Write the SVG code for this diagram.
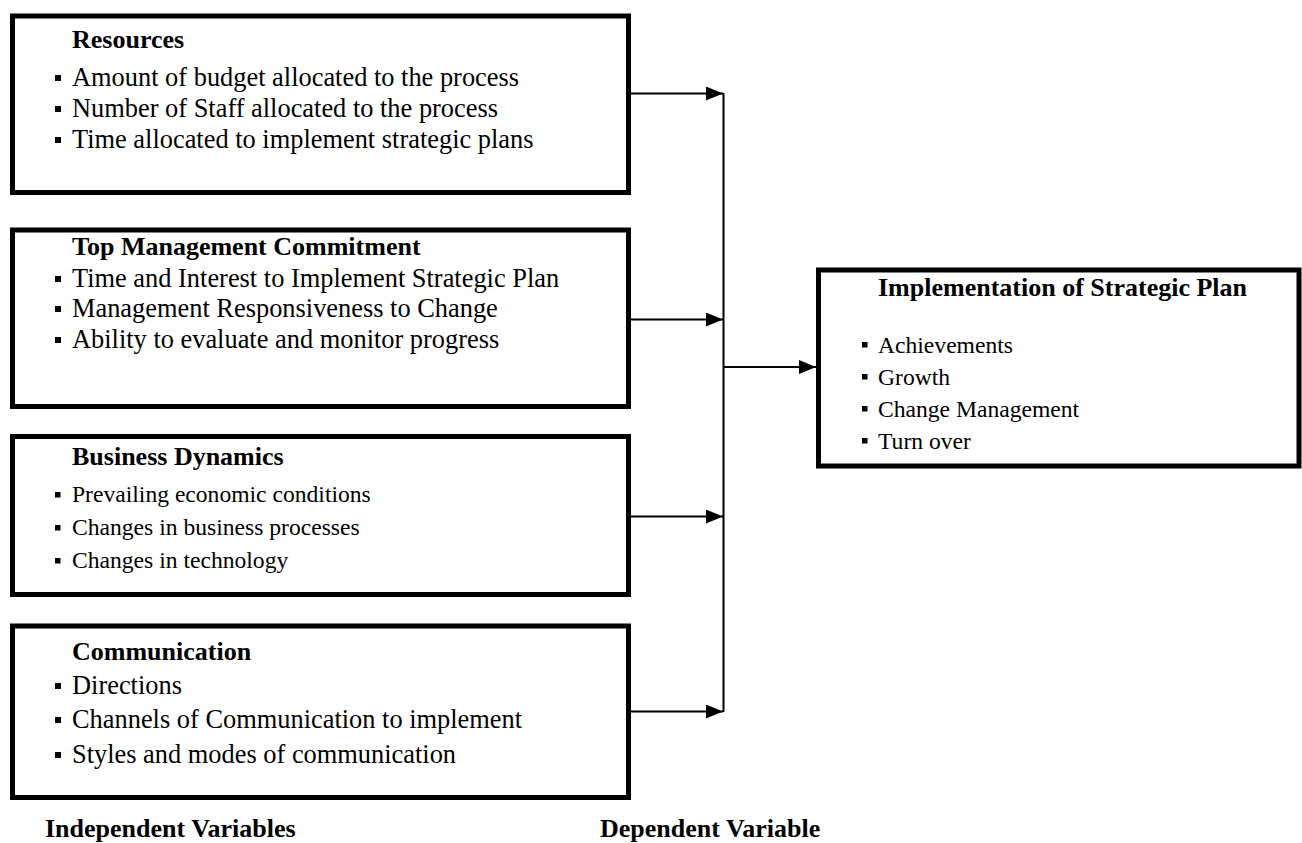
<svg xmlns="http://www.w3.org/2000/svg" width="1302" height="843" viewBox="0 0 1302 843">
<style>
.box{fill:#fff;stroke:#000;stroke-width:5}
.t{font-family:"Liberation Serif","Times New Roman",serif;fill:#000}
.h{font-size:26px;font-weight:bold}
.b{font-size:26.4px}
.s{font-size:23.6px}
.lab{font-family:"Liberation Serif","Times New Roman",serif;font-size:26px;font-weight:bold;fill:#000}
.bul{fill:#000}
.con{stroke:#000;stroke-width:2;fill:none}
</style>
<defs>
<marker id="ah" markerUnits="userSpaceOnUse" markerWidth="17" markerHeight="14" refX="17" refY="7" orient="auto">
<path d="M0,0 L17,7 L0,14 z" fill="#000"/>
</marker>
</defs>
<rect width="1302" height="843" fill="#fff"/>

<g id="resources">
<rect class="box" x="12.5" y="16" width="616" height="176.5"/>
<text class="t h" x="72" y="48">Resources</text>
<rect class="bul" x="55" y="75" width="6" height="6"/>
<text class="t b" x="72" y="86">Amount of budget allocated to the process</text>
<rect class="bul" x="55" y="106" width="6" height="6"/>
<text class="t b" x="72" y="117">Number of Staff allocated to the process</text>
<rect class="bul" x="55" y="137" width="6" height="6"/>
<text class="t b" x="72" y="148">Time allocated to implement strategic plans</text>
</g>

<g id="top-management">
<rect class="box" x="12.5" y="230" width="616" height="176.5"/>
<text class="t h" x="72" y="255">Top Management Commitment</text>
<rect class="bul" x="55" y="276" width="6" height="6"/>
<text class="t b" x="72" y="287">Time and Interest to Implement Strategic Plan</text>
<rect class="bul" x="55" y="306" width="6" height="6"/>
<text class="t b" x="72" y="317">Management Responsiveness to Change</text>
<rect class="bul" x="55" y="337" width="6" height="6"/>
<text class="t b" x="72" y="348">Ability to evaluate and monitor progress</text>
</g>

<g id="business-dynamics">
<rect class="box" x="12.5" y="436.5" width="616" height="158"/>
<text class="t h" x="72" y="465">Business Dynamics</text>
<rect class="bul" x="55" y="492" width="5.5" height="5.5"/>
<text class="t s" x="72" y="502">Prevailing economic conditions</text>
<rect class="bul" x="55" y="525" width="5.5" height="5.5"/>
<text class="t s" x="72" y="535">Changes in business processes</text>
<rect class="bul" x="55" y="558" width="5.5" height="5.5"/>
<text class="t s" x="72" y="568">Changes in technology</text>
</g>

<g id="communication">
<rect class="box" x="12.5" y="626" width="616" height="171.5"/>
<text class="t h" x="72" y="660">Communication</text>
<rect class="bul" x="55" y="683" width="6" height="6"/>
<text class="t b" x="72" y="694">Directions</text>
<rect class="bul" x="55" y="717" width="6" height="6"/>
<text class="t b" x="72" y="728">Channels of Communication to implement</text>
<rect class="bul" x="55" y="752" width="6" height="6"/>
<text class="t b" x="72" y="763">Styles and modes of communication</text>
</g>

<g id="implementation">
<rect class="box" x="818.5" y="270" width="480.5" height="196"/>
<text class="t h" x="878" y="296">Implementation of Strategic Plan</text>
<rect class="bul" x="862" y="342" width="5.5" height="5.5"/>
<text class="t s" x="878" y="353">Achievements</text>
<rect class="bul" x="862" y="374" width="5.5" height="5.5"/>
<text class="t s" x="878" y="385">Growth</text>
<rect class="bul" x="862" y="406" width="5.5" height="5.5"/>
<text class="t s" x="878" y="417">Change Management</text>
<rect class="bul" x="862" y="438" width="5.5" height="5.5"/>
<text class="t s" x="878" y="449">Turn over</text>
</g>

<g id="connectors">
<line class="con" x1="723.5" y1="93" x2="723.5" y2="712"/>
<line class="con" x1="631" y1="93.5" x2="723" y2="93.5" marker-end="url(#ah)"/>
<line class="con" x1="631" y1="319.5" x2="723" y2="319.5" marker-end="url(#ah)"/>
<line class="con" x1="631" y1="516.5" x2="723" y2="516.5" marker-end="url(#ah)"/>
<line class="con" x1="631" y1="711.5" x2="723" y2="711.5" marker-end="url(#ah)"/>
<line class="con" x1="723.5" y1="367" x2="816" y2="367" marker-end="url(#ah)"/>
</g>

<g id="labels">
<text class="lab" x="45" y="837">Independent Variables</text>
<text class="lab" x="600" y="837">Dependent Variable</text>
</g>
</svg>
